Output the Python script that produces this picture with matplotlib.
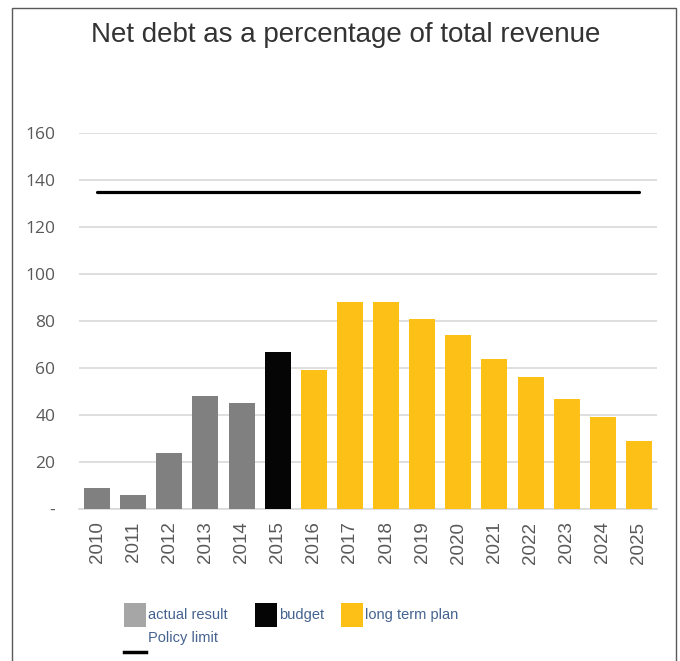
import matplotlib
matplotlib.use("Agg")
import matplotlib.pyplot as plt
from matplotlib.patches import Rectangle
from matplotlib.lines import Line2D

years = ["2010", "2011", "2012", "2013", "2014", "2015", "2016", "2017",
         "2018", "2019", "2020", "2021", "2022", "2023", "2024", "2025"]
net_debt = [9, 6, 24, 48, 45, 67, 59, 88, 88, 81, 74, 64, 56, 47, 39, 29]
category = ["actual", "actual", "actual", "actual", "actual", "budget",
            "plan", "plan", "plan", "plan", "plan", "plan", "plan", "plan", "plan", "plan"]
policy_limit = 135
y_ticks = [0, 20, 40, 60, 80, 100, 120, 140, 160]
y_tick_labels = ["-", "20", "40", "60", "80", "100", "120", "140", "160"]

bar_colors = {"actual": "#808080", "budget": "#050505", "plan": "#fcc016"}
legend_colors = {"actual": "#a6a6a6", "budget": "#050505", "plan": "#fcc016"}

W, H = 680, 661
fig = plt.figure(figsize=(W / 100, H / 100), dpi=100)

def fx(px):
    return px / W

def fy(py):
    return 1 - py / H

ax = fig.add_axes([fx(79), fy(509), fx(657) - fx(79), fy(133) - fy(509)])
x = list(range(len(years)))
ax.bar(x, net_debt, width=0.72, color=[bar_colors[c] for c in category], zorder=3)
ax.plot([x[0], x[-1]], [policy_limit, policy_limit], color="black", lw=2.3,
        solid_capstyle="round", zorder=4)
ax.set_xlim(-0.5, len(years) - 0.5)
ax.set_ylim(0, 160)
ax.set_yticks(y_ticks)
ax.set_yticklabels(y_tick_labels)
ax.set_xticks(x)
ax.set_xticklabels(years, rotation=90)
ax.yaxis.grid(True, color="#d9d9d9", lw=1.2, zorder=0)
for s in ["top", "right", "left"]:
    ax.spines[s].set_visible(False)
ax.spines["bottom"].set_color("#d9d9d9")
ax.spines["bottom"].set_linewidth(1.2)
ax.tick_params(length=0, colors="#595959")
ax.tick_params(axis="y", pad=17, labelsize=12.5)
ax.tick_params(axis="x", pad=9, labelsize=13.5)
for lab in ax.get_yticklabels():
    lab.set_family(["Open Sans", "DejaVu Sans"])
for lab in ax.get_xticklabels():
    lab.set_family(["Liberation Sans", "DejaVu Sans"])

fig.text(fx(346), fy(35), "Net debt as a percentage of total revenue",
         ha="center", va="center", fontsize=20, color="#333333",
         family=["Liberation Sans", "DejaVu Sans"])

# figure frame
fig.patches.append(Rectangle((fx(12), fy(670)), fx(676) - fx(12), fy(8) - fy(670),
                             transform=fig.transFigure, fill=False,
                             edgecolor="#595959", lw=1.0))

# legend
leg_font = ["Liberation Sans Narrow", "Liberation Sans", "DejaVu Sans"]
leg_txt = "#44628f"
items = [(124, 148, "actual", "actual result"),
         (255, 279, "budget", "budget"),
         (341, 365, "plan", "long term plan")]
for x0, tx, key, label in items:
    fig.patches.append(Rectangle((fx(x0), fy(627)), fx(22), fy(603) - fy(627),
                                 transform=fig.transFigure,
                                 facecolor=legend_colors[key], edgecolor="none"))
    fig.text(fx(tx), fy(615), label, ha="left", va="center", fontsize=10.5,
             color=leg_txt, family=leg_font)
fig.lines.append(Line2D([fx(124), fx(146)], [fy(652), fy(652)],
                        transform=fig.transFigure, color="black", lw=2.5))
fig.text(fx(148), fy(638), "Policy limit", ha="left", va="center", fontsize=10.5,
         color=leg_txt, family=leg_font)

fig.savefig("out.png", dpi=100)
